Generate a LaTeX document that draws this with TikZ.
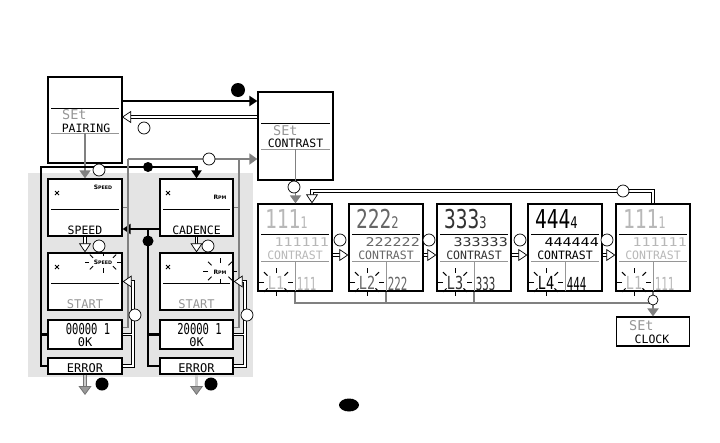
\documentclass[tikz,border=0pt]{standalone}
\usepackage{fontspec}
\usepackage{graphicx}
\newfontfamily\lcdfont{DejaVu Sans Mono}
\newfontfamily\tagfont{DejaVu Sans}
\usetikzlibrary{arrows.meta, calc}
\definecolor{lcdgray}{RGB}{150,150,150}
\definecolor{wiregray}{RGB}{128,128,128}
\definecolor{panelgray}{RGB}{228,228,228}

\tikzset{
  lcd/.style={draw, line width=1.3pt, fill=white, inner sep=0pt},
  lcdtext/.style={font=\lcdfont, inner sep=0pt, text depth=0pt},
  press/.style={circle, draw, line width=.7pt, fill=white, minimum size=12pt, inner sep=0pt},
  hold/.style={circle, fill=black, minimum size=13pt, inner sep=0pt},
  mainline/.style={line width=2.4pt},
  mainarrow/.style={mainline, -{Triangle[length=8pt, width=10pt]}},
  grayline/.style={wiregray, line width=1.3pt},
  grayarrow/.style={wiregray, line width=1.8pt, -{Triangle[length=8pt, width=11pt]}},
  backline/.style={double, double distance=1.8pt, line width=.7pt},
  backarrow/.style={backline, -{Triangle[fill=white, line width=.7pt, length=9pt, width=12pt]}},
  exitarrow/.style={draw=black!55, double=black!20, double distance=2.2pt, line width=.8pt,
    -{Triangle[fill=black!40, line width=.8pt, length=9pt, width=13pt]}},
}

% rays round a blinking field
\newcommand{\blinkrays}[4]{%
  \foreach \a in {0,45,...,315}
    \draw[line width=.9pt] (#1) ++(\a:#2 and #3) -- ++(\a:#4);}

% small sensor mark in the top left corner
\newcommand{\sensormark}[1]{%
  \draw[line width=.8pt] (#1) ++(-2,-2) -- ++(4,4) ++(-4,0) -- ++(4,-4);}

% one contrast level screen
\newcommand{\levelbox}[4]{%
  \begin{scope}[shift={(#2,204)}]
    \node[lcd, minimum width=74pt, minimum height=87pt] (#1) at (37,43.5) {};
    \draw[line width=.6pt] (3,30) -- (71,30);
    \draw[lcdgray, line width=.6pt] (3,57) -- (71,57) (37,57) -- (37,87);
    \node[lcdtext, text=#4, anchor=base west] (#1big) at (7,24.5)
      {\scalebox{.75}[1]{\fontsize{26}{26}\selectfont #3#3#3{\fontsize{16}{16}\selectfont #3}}};
    \node[lcdtext, text=#4, anchor=base east] (#1row) at (71,42)
      {\scalebox{1.25}[1]{\fontsize{12}{12}\selectfont #3#3#3#3#3#3}};
    \node[lcdtext, text=#4, anchor=base] (#1name) at (37,55)
      {\fontsize{11.5}{11.5}\selectfont CONTRAST};
    \node[lcdtext, text=#4] (#1lvl) at (18,78.5)
      {\scalebox{.75}[1]{\fontsize{18}{18}\selectfont L#3}};
    \node[lcdtext, text=#4] (#1val) at (48.5,79.5)
      {\scalebox{.6}[1]{\fontsize{18}{18}\selectfont #3#3#3}};
    \blinkrays{18,78}{12}{9}{5}
  \end{scope}}

\begin{document}
\begin{tikzpicture}[x=1pt, y=-1pt]
\useasboundingbox (0,0) rectangle (720,442);
\fill[panelgray] (28,173) rectangle (253,377);

% top screens
\node[lcd, minimum width=74pt, minimum height=86pt] (pairing) at (85,120) {};
\draw[line width=.6pt] (51,108) -- (119,108);
\draw[lcdgray, line width=.6pt] (51,133) -- (119,133);
\node[lcdtext, text=lcdgray, anchor=base west] (pairset) at (62,119) {\fontsize{13.5}{13.5}\selectfont SEt};
\node[lcdtext, anchor=base] (pairname) at (86,132) {\fontsize{11.5}{11.5}\selectfont PAIRING};

\node[lcd, minimum width=75pt, minimum height=88pt] (contrast) at (295.5,136) {};
\draw[line width=.6pt] (261,123) -- (330,123);
\draw[lcdgray, line width=.6pt] (261,149) -- (330,149);
\node[lcdtext, text=lcdgray, anchor=base west] (conset) at (273,135) {\fontsize{13.5}{13.5}\selectfont SEt};
\node[lcdtext, anchor=base] (conname) at (295.5,147.5) {\fontsize{11.5}{11.5}\selectfont CONTRAST};

% sensor screens
\node[lcd, minimum width=74pt, minimum height=57pt] (speed) at (85,207.5) {};
\node[lcd, minimum width=73pt, minimum height=57pt] (cadence) at (196.5,207.5) {};
\node[lcd, minimum width=74pt, minimum height=57pt] (startspeed) at (85,281.5) {};
\node[lcd, minimum width=73pt, minimum height=57pt] (startcad) at (196.5,281.5) {};
\node[lcd, minimum width=74pt, minimum height=29pt] (okspeed) at (85,334.5) {};
\node[lcd, minimum width=73pt, minimum height=29pt] (okcad) at (196.5,334.5) {};
\node[lcd, minimum width=74pt, minimum height=16pt] (errspeed) at (85,366) {};
\node[lcd, minimum width=73pt, minimum height=16pt] (errcad) at (196.5,366) {};

\draw[line width=.6pt] (51,209) -- (119,209) (163,209) -- (230,209)
  (51,283) -- (119,283) (163,283) -- (230,283);
\sensormark{57,193} \sensormark{168,193} \sensormark{57,267} \sensormark{168,267}
\node[font=\tagfont\bfseries, inner sep=0pt] (speedtag) at (103,187)
  {\fontsize{6}{6}\selectfont S{\fontsize{4.8}{5}\selectfont PEED}};
\node[font=\tagfont\bfseries, inner sep=0pt] (cadtag) at (220,197)
  {\fontsize{6}{6}\selectfont R{\fontsize{4.8}{5}\selectfont PM}};
\node[font=\tagfont\bfseries, inner sep=0pt] (speedblink) at (103,262)
  {\fontsize{6}{6}\selectfont S{\fontsize{4.8}{5}\selectfont PEED}};
\node[font=\tagfont\bfseries, inner sep=0pt] (cadblink) at (220,272)
  {\fontsize{6}{6}\selectfont R{\fontsize{4.8}{5}\selectfont PM}};
\blinkrays{103,262}{14}{6}{4.5}
\blinkrays{220,271}{12}{8}{5}

\node[lcdtext, anchor=base] (speedname) at (85,234) {\fontsize{11.5}{11.5}\selectfont SPEED};
\node[lcdtext, anchor=base] (cadname) at (196.5,234) {\fontsize{11.5}{11.5}\selectfont CADENCE};
\node[lcdtext, text=lcdgray, anchor=base] (startA) at (85,308) {\fontsize{12}{12}\selectfont START};
\node[lcdtext, text=lcdgray, anchor=base] (startB) at (196.5,308) {\fontsize{12}{12}\selectfont START};
\node[lcdtext, anchor=base] (idA) at (88,334) {\scalebox{.7}[1]{\fontsize{15}{15}\selectfont 00000 1}};
\node[lcdtext, anchor=base] (idB) at (199.5,334) {\scalebox{.7}[1]{\fontsize{15}{15}\selectfont 20000 1}};
\node[lcdtext, anchor=base] (okA) at (85,346) {\fontsize{12}{12}\selectfont 0K};
\node[lcdtext, anchor=base] (okB) at (196.5,346) {\fontsize{12}{12}\selectfont 0K};
\node[lcdtext, anchor=base] (errA) at (85,372) {\fontsize{12}{12}\selectfont ERROR};
\node[lcdtext, anchor=base] (errB) at (196.5,372) {\fontsize{12}{12}\selectfont ERROR};

% contrast levels
\levelbox{lone}{258}{1}{black!28}
\levelbox{ltwo}{349}{2}{black!60}
\levelbox{lthree}{437}{3}{black!80}
\levelbox{lfour}{528}{4}{black}
\levelbox{lback}{616}{1}{black!28}

\node[lcd, line width=1.1pt, minimum width=73pt, minimum height=29pt] (setclock) at (653,331.5) {};
\node[lcdtext, text=lcdgray, anchor=base west] (clockset) at (629,330) {\fontsize{13.5}{13.5}\selectfont SEt};
\node[lcdtext, anchor=base] (clockname) at (652,343) {\fontsize{11.5}{11.5}\selectfont CLOCK};

% wire points
\coordinate (pairout) at (122,101);
\coordinate (pairback) at (122,117);
\coordinate (pairdiv) at (85,133);
\coordinate (condiv) at (295.5,149);
\coordinate (lefttop) at (41,167);
\coordinate (midtop) at (148,229);
\coordinate (feedA) at (128,159);
\coordinate (feedB) at (239,159);
\coordinate (loopA) at (133,281.5);
\coordinate (loopB) at (245,281.5);
\coordinate (loopR) at (653,191);
\coordinate (loopL) at (312,191);
\coordinate (setin) at (653,303);
\coordinate (exitA) at (85,395);
\coordinate (exitB) at (196.5,395);

% connectors
\draw[mainarrow] (pairout) -- (pairout -| contrast.west);
\draw[backarrow] (contrast.west |- pairback) -- (pairback);
\draw[grayarrow] (pairdiv) -- (speed.north);
\draw[mainline] (okspeed.west) -| (lefttop);
\draw[mainarrow] (errspeed.west) -| (lefttop) -| (cadence.north);
\draw[mainarrow] (cadence.west |- midtop) -- (speed.east |- midtop);
\draw[mainline] (okcad.west) -| (midtop);
\draw[mainline] (errcad.west) -| (midtop);

\draw[grayline] (speed.east) -| (feedA);
\draw[grayline] ([yshift=7pt]okspeed.east) -| (feedA);
\draw[grayline] (cadence.east) -| (feedB);
\draw[grayline] ([yshift=7pt]okcad.east) -| (feedB);
\draw[grayarrow] (feedA) -- (feedA -| contrast.west);

\draw[backarrow] (speed.south) -- (startspeed.north);
\draw[backarrow] (cadence.south) -- (startcad.north);
\draw[backarrow] (errspeed.east) -| (loopA) -- (startspeed.east);
\draw[backline, shorten >=.75pt] (okspeed.east) -- (okspeed.east -| loopA);
\draw[backarrow] (errcad.east) -| (loopB) -- (startcad.east);
\draw[backline, shorten >=.75pt] (okcad.east) -- (okcad.east -| loopB);

\draw[exitarrow] (errspeed.south) -- (exitA);
\draw[exitarrow] (errcad.south) -- (exitB);

\draw[grayarrow] (condiv) -- (condiv |- lone.north);
\draw[backarrow] (lback.north) -- (loopR) -- (loopL) -- (loopL |- lone.north);
\foreach \a/\b in {lone/ltwo, ltwo/lthree, lthree/lfour, lfour/lback}
  \draw[backarrow] ([yshift=-7.5pt]\a.east) -- ([yshift=-7.5pt]\b.west);
\foreach \n in {lone, ltwo, lthree}
  \draw[grayline] (\n.south) |- (setin);
\draw[grayarrow] (lback.south) -- (setclock.north);

% buttons
\foreach \x/\y [count=\i] in {144/128, 99/170, 209/159, 99/246, 208/246, 135/315, 247/315,
    294/187, 623/191, 340/240, 429/240, 520/240, 607/240}
  \node[press] (press\i) at (\x,\y) {};
\node[press, minimum size=10pt] (pressclock) at (653,300) {};
\foreach \x/\y/\s [count=\i] in {238/90/14, 148/167/10, 148/241/11, 102/384/13, 211/384/13}
  \node[hold, minimum size=\s pt] (hold\i) at (\x,\y) {};
\fill (349,405) ellipse (10 and 6.5);
\end{tikzpicture}
\end{document}
